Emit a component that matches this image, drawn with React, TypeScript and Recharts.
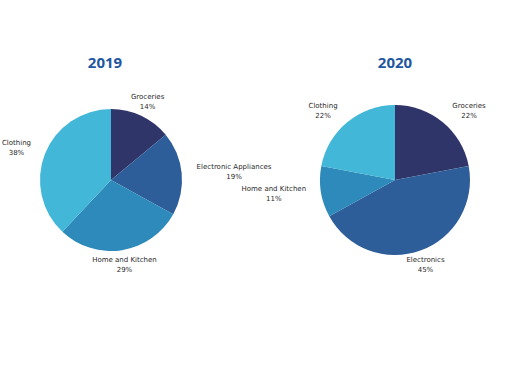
import React from 'react'
import { Cell, Pie, PieChart } from 'recharts'

const categories2019 = ['Groceries', 'Electronic Appliances', 'Home and Kitchen', 'Clothing']
const values2019 = [14, 19, 29, 38]
const categories2020 = ['Groceries', 'Electronics', 'Home and Kitchen', 'Clothing']
const values2020 = [22, 45, 11, 22]
const titles = ['2019', '2020']
const colors = ['#2f3469', '#2e5e99', '#2d8abb', '#42b7d7']

const data2019 = categories2019.map((name, i) => ({ name, value: values2019[i] }))
const data2020 = categories2020.map((name, i) => ({ name, value: values2020[i] }))

const LABEL_FONT = '7px "DejaVu Sans"'
const RAD = Math.PI / 180

let ctx: CanvasRenderingContext2D | null = null
const measure = (s: string) => {
  if (!ctx) ctx = document.createElement('canvas').getContext('2d')
  if (!ctx) return s.length * 3.7
  ctx.font = LABEL_FONT
  return ctx.measureText(s).width
}

const renderLabel = (props: any) => {
  const { cx, cy, midAngle, outerRadius, name, value } = props
  const r = outerRadius + 15
  const x = cx + r * Math.cos(-midAngle * RAD)
  const y = cy + r * Math.sin(-midAngle * RAD)
  const pct = `${value}%`
  const w = Math.max(measure(name), measure(pct))
  const c = Math.cos(midAngle * RAD)
  let mx = x
  if (c > 0.5) mx = x + w / 2
  else if (c < -0.5) mx = x - w / 2
  return (
    <text
      x={mx}
      y={y}
      textAnchor="middle"
      fill="#2a2a2a"
      fontSize={7}
      fontFamily='"DejaVu Sans", sans-serif'
    >
      <tspan x={mx} y={y - 5} dominantBaseline="central">{name}</tspan>
      <tspan x={mx} y={y + 5} dominantBaseline="central">{pct}</tspan>
    </text>
  )
}

const titleStyle = (left: number): React.CSSProperties => ({
  position: 'absolute',
  left: left - 40,
  top: 51,
  width: 80,
  textAlign: 'center',
  fontFamily: '"Open Sans", sans-serif',
  fontWeight: 700,
  fontSize: 15,
  lineHeight: '22px',
  color: '#1f56a0',
})

export default function App() {
  return (
    <div style={{ position: 'absolute', left: 0, top: 0, width: 512, height: 384, background: '#fff' }}>
      <PieChart width={512} height={384} margin={{ top: 0, right: 0, bottom: 0, left: 0 }}>
        <Pie
          data={data2019}
          dataKey="value"
          nameKey="name"
          cx={111}
          cy={180}
          outerRadius={71}
          startAngle={90}
          endAngle={-270}
          stroke="none"
          label={renderLabel}
          labelLine={false}
          isAnimationActive={false}
        >
          {data2019.map((d, i) => (
            <Cell key={d.name} fill={colors[i]} />
          ))}
        </Pie>
        <Pie
          data={data2020}
          dataKey="value"
          nameKey="name"
          cx={395}
          cy={180}
          outerRadius={75}
          startAngle={90}
          endAngle={-270}
          stroke="none"
          label={renderLabel}
          labelLine={false}
          isAnimationActive={false}
        >
          {data2020.map((d, i) => (
            <Cell key={d.name} fill={colors[i]} />
          ))}
        </Pie>
      </PieChart>
      <div style={titleStyle(105)}>{titles[0]}</div>
      <div style={titleStyle(395)}>{titles[1]}</div>
    </div>
  )
}
